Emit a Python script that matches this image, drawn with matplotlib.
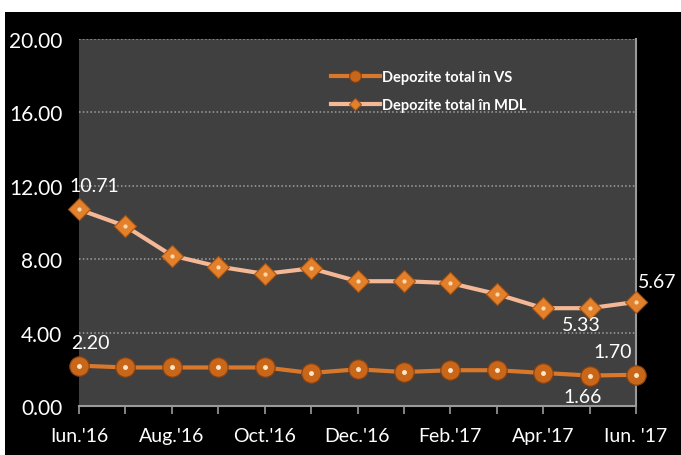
import matplotlib
matplotlib.use("Agg")
import matplotlib.pyplot as plt
from matplotlib.patches import Rectangle

plt.rcParams['font.family'] = ['Lato', 'DejaVu Sans']

# data
months = ["Iun.'16", "Jul.'16", "Aug.'16", "Sep.'16", "Oct.'16", "Nov.'16", "Dec.'16",
          "Jan.'17", "Feb.'17", "Mar.'17", "Apr.'17", "May.'17", "Iun. '17"]
vs = [2.20, 2.10, 2.10, 2.10, 2.10, 1.80, 2.00, 1.85, 1.95, 1.95, 1.80, 1.66, 1.70]
mdl = [10.71, 9.80, 8.20, 7.60, 7.20, 7.50, 6.80, 6.80, 6.70, 6.10, 5.33, 5.33, 5.67]
yticks = [0, 4, 8, 12, 16, 20]

x = list(range(len(months)))

fig = plt.figure(figsize=(6.81, 4.56), dpi=100, facecolor="white")
fig.patches.append(Rectangle((5 / 681, 0), 1, 1 - 13 / 456, transform=fig.transFigure,
                             facecolor="black", edgecolor="none", zorder=-10))

ax = fig.add_axes([79 / 681, 49 / 456, 557 / 681, 367 / 456])
ax.set_facecolor("#404040")

# gridlines
for t in yticks[1:]:
    ax.axhline(t, color="#a0a0a0", lw=1.1, ls=(0, (1, 1.5)), zorder=1)

ax.plot(x, vs, color="#d9782a", lw=3, zorder=3, label="Depozite total în VS",
        marker="o", ms=14, mfc="#c8661a", mec="#8a4010", mew=0.8, clip_on=False)
ax.plot(x, mdl, color="#f4b896", lw=3, zorder=3, label="Depozite total în MDL",
        marker="D", ms=11, mfc="#e2802c", mec="#a85515", mew=0.8, clip_on=False)
# highlights
ax.plot(x, vs, ls="none", marker="o", ms=2.5, color="#ffe6c8", zorder=4, clip_on=False)
ax.plot(x, mdl, ls="none", marker="o", ms=2, color="#ffd9b0", zorder=4, clip_on=False)

ax.set_xlim(0, 12)
ax.set_ylim(0, 20)

ax.set_yticks(yticks)
ax.set_yticklabels([f"{t:.2f}" for t in yticks])
ax.set_xticks(x)
ax.set_xticklabels([m if i % 2 == 0 else "" for i, m in enumerate(months)])

ax.tick_params(axis="y", length=0, colors="white", labelsize=15, pad=12)
ax.tick_params(axis="x", direction="out", length=6, width=1.2,
               colors="white", labelsize=14, pad=9)
ax.tick_params(axis="x", color="#9a9a9a")

for side in ["left", "top"]:
    ax.spines[side].set_visible(False)
for side in ["bottom", "right"]:
    ax.spines[side].set_color("#9a9a9a")
    ax.spines[side].set_linewidth(1.5)

# data labels
lab = dict(color="white", fontsize=14, ha="center", va="center", textcoords="offset points")
ax.annotate("10.71", (0, mdl[0]), xytext=(11, 17), **lab)
ax.annotate("2.20", (0, vs[0]), xytext=(8, 17), **lab)
ax.annotate("5.33", (11, mdl[11]), xytext=(-6, -12), **lab)
ax.annotate("5.67", (12, mdl[12]), xytext=(15, 15), **lab)
ax.annotate("1.70", (12, vs[12]), xytext=(-17, 17), **lab)
ax.annotate("1.66", (11, vs[11]), xytext=(-5, -15), **lab)

leg = ax.legend(loc="upper left", bbox_to_anchor=(0.428, 0.95), frameon=False,
                fontsize=10.5, handlelength=3.4, handletextpad=0.1, labelspacing=0.95,
                markerscale=0.6)
for t in leg.get_texts():
    t.set_color("white")
    t.set_fontweight("bold")

fig.savefig("out.png", dpi=100, facecolor=fig.get_facecolor())
